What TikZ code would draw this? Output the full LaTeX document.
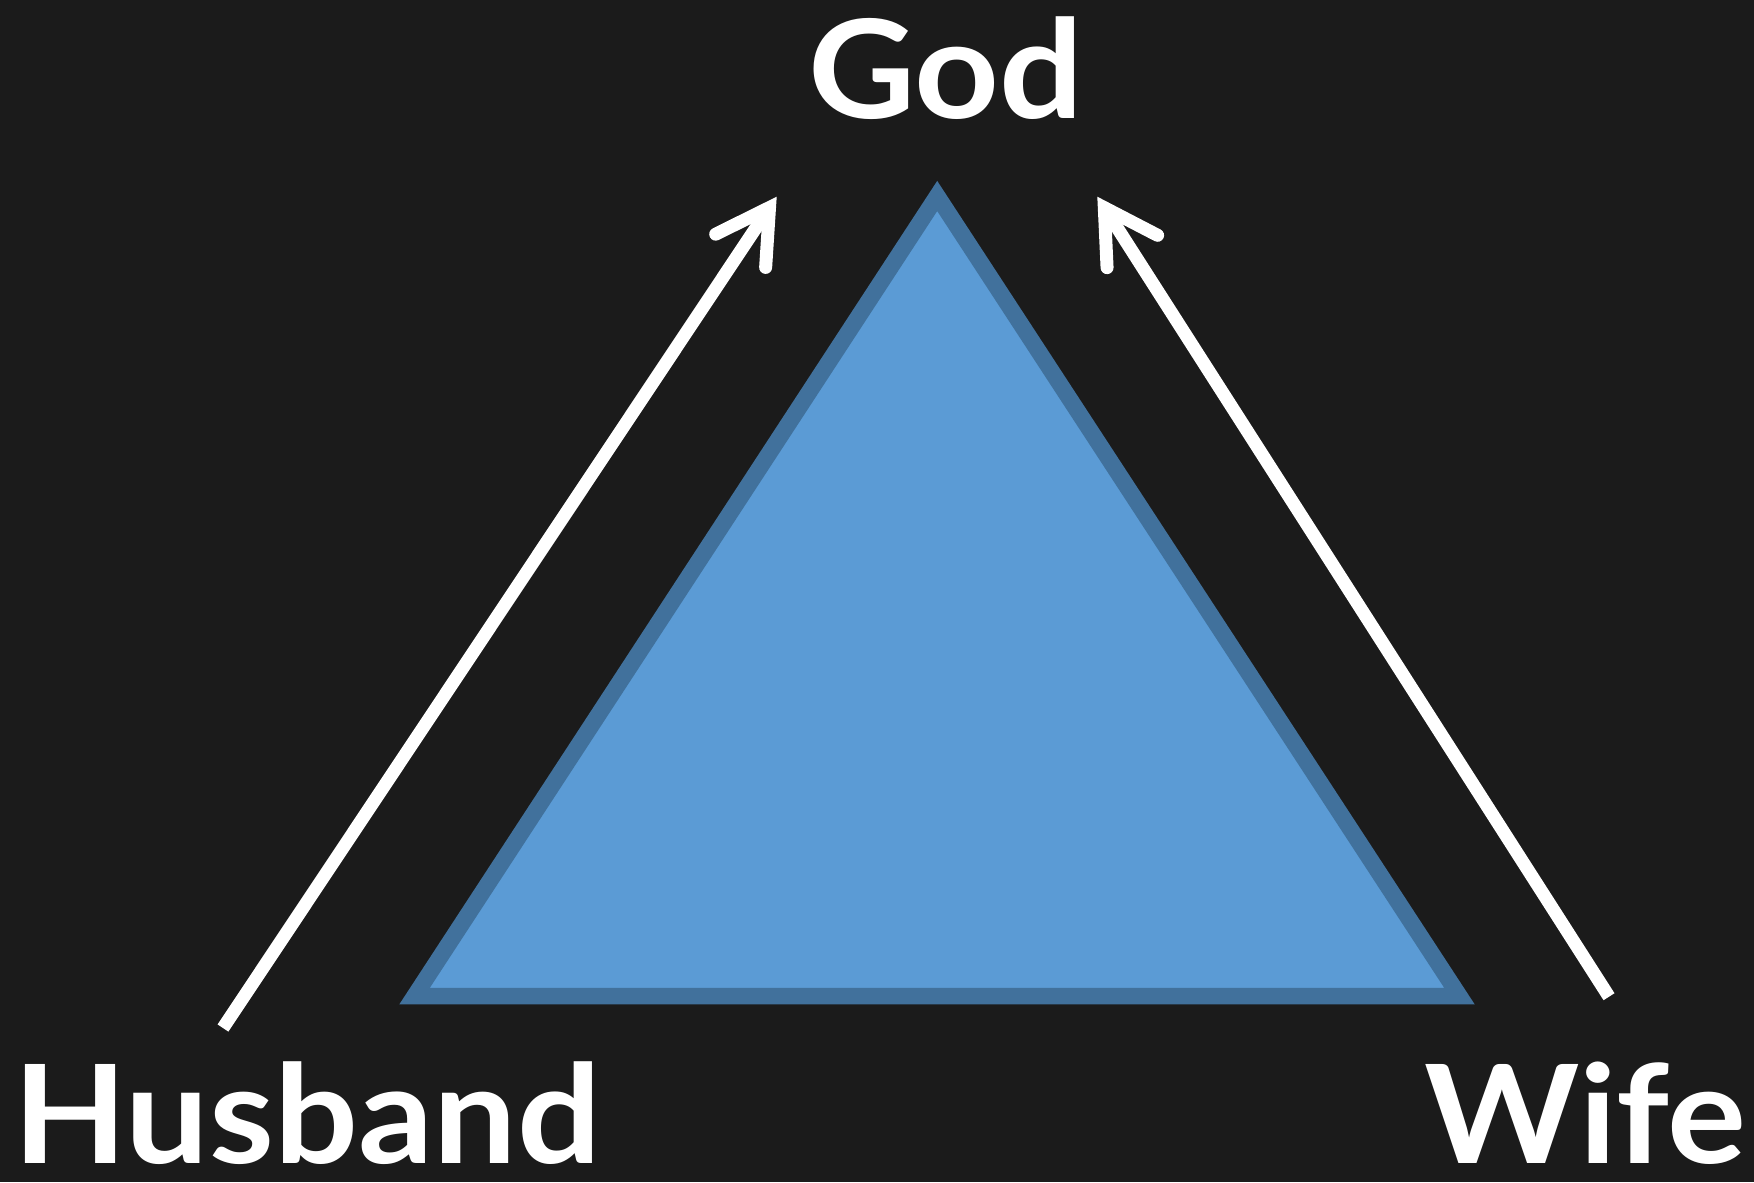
\documentclass[tikz,border=0pt]{standalone}
\usepackage{fontspec}
\setmainfont{Lato}[FakeStretch=1.08]
\usetikzlibrary{arrows.meta}
\definecolor{bgdark}{HTML}{1B1B1B}
\definecolor{trifill}{HTML}{5B9BD5}
\definecolor{triline}{HTML}{41719C}
\begin{document}
\begin{tikzpicture}[
    x=0.5pt, y=-0.5pt,
    lbl/.style={font=\bfseries\fontsize{68.5pt}{82pt}\selectfont, text=white, inner sep=0pt, anchor=base},
    tri/.style={fill=trifill, draw=triline, line width=8.25pt, line join=miter},
    arr/.style={draw=white, line width=6.5pt, line cap=butt,
        -{Straight Barb[length=26pt, width=30pt, line cap=round, line join=miter]}}
]
\fill[bgdark] (0,0) rectangle (1754,1182);
\useasboundingbox (0,0) rectangle (1754,1182);

% labels
\node[lbl] (god) at (946,118.6) {God};
\node[lbl] (hus) at (307,1163) {Husband};
\node[lbl] (wife) at (1585.5,1163) {Wife};

% triangle
\coordinate (top) at (937.2,196);
\coordinate (bl) at (414.5,996.2);
\coordinate (br) at (1459.5,996.2);
\draw[tri] (top) -- (bl) -- (br) -- cycle;

% arrows up to God
\coordinate (hs) at (223,1028);
\coordinate (he) at (776.7,196.7);
\coordinate (ws) at (1609,996.7);
\coordinate (we) at (1097.3,196.7);
\draw[arr] (hs) -- (he);
\draw[arr] (ws) -- (we);
\end{tikzpicture}
\end{document}
